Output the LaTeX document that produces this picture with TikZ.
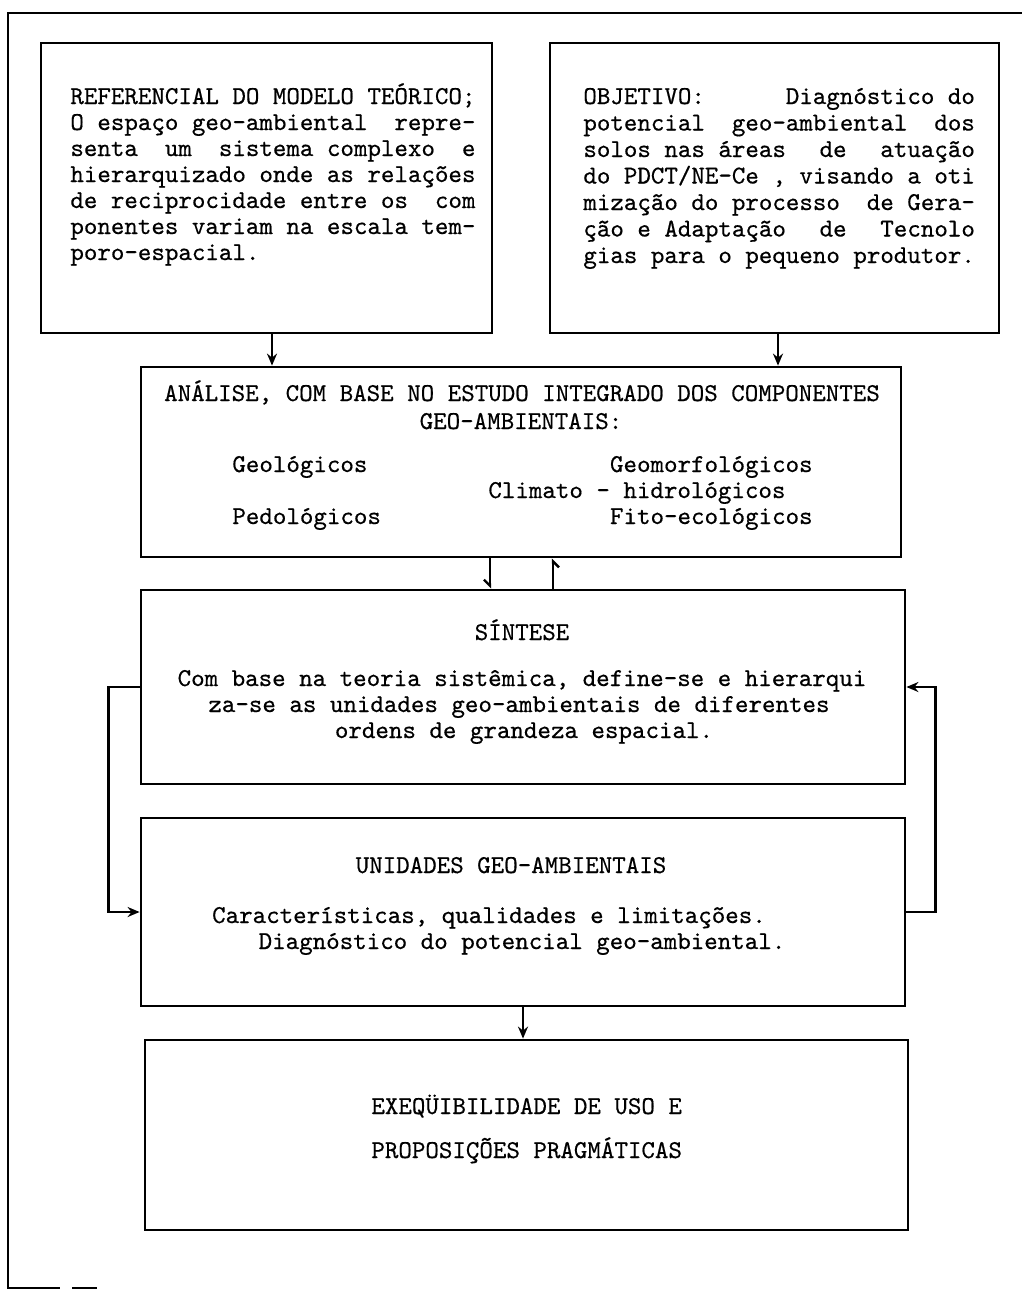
\documentclass[tikz,border=0pt]{standalone}
\usepackage{fontspec}
\newfontfamily\tw{lmmono10-regular}[Extension=.otf,FakeBold=0.5]
\usetikzlibrary{arrows.meta,fit}
\begin{document}
\begin{tikzpicture}[x=0.5pt,y=-0.5pt,
  box/.style={draw,line width=1.4pt,inner sep=0pt},
  frame/.style={line width=1pt},
  conn/.style={line width=1.2pt,-{Stealth[length=6pt,width=5pt]}},
  barb/.style={line width=1.2pt,-{Straight Barb[harpoon,swap,length=3pt,width=6pt]}},
  txt/.style={inner sep=0pt,font=\tw\fontsize{12.86}{13}\selectfont}]
\useasboundingbox (0,0) rectangle (1022,1292);
% outer frame
\draw[frame] (1022,13) -- (8,13) -- (8,1288) -- (60,1288);
\draw[frame] (72,1288) -- (97,1288);
% boxes
\node[box,fit={(41,43)(492,333)}] (b1) {};
\node[box,fit={(550,43)(999,333)}] (b2) {};
\node[box,fit={(141,367)(901,557)}] (b3) {};
\node[box,fit={(141,590)(905,784)}] (b4) {};
\node[box,fit={(141,818)(905,1006)}] (b5) {};
\node[box,fit={(145,1040)(908,1230)}] (b6) {};
% box 1 text
\node[txt,anchor=base west] (t1) at (70,104) {\parbox[t]{210pt}{\tw\fontsize{12.86}{13}\selectfont
REFERENCIAL DO MODELO TEÓRICO;\\
O espaço geo-ambiental~~repre-\\
senta~~um~~sistema complexo~~e\\
hierarquizado onde as relações\\
de reciprocidade entre os~~com\\
ponentes variam na escala tem-\\
poro-espacial.}};
% box 2 text
\node[txt,anchor=base west] (t2) at (583,104) {\parbox[t]{195.75pt}{\tw\fontsize{12.86}{13.25}\selectfont
\makebox[\linewidth][l]{OBJETIVO:\hfill Diagnóstico do}\\
potencial~~geo-ambiental~~dos\\
\makebox[\linewidth][l]{solos nas áreas\hfill de\hfill atuação}\\
do PDCT/NE-Ce , visando a oti\\
mização do processo~~de Gera-\\
\makebox[\linewidth][l]{ção e Adaptação\hfill de\hfill Tecnolo}\\
gias para o pequeno produtor.}};
% box 3 text
\node[txt,anchor=base] (t3a) at (522,401) {ANÁLISE, COM BASE NO ESTUDO INTEGRADO DOS COMPONENTES};
\node[txt,anchor=base] (t3b) at (521,429) {GEO-AMBIENTAIS:};
\node[txt,anchor=base west] (t3c) at (232,472) {Geológicos};
\node[txt,anchor=base east] (t3d) at (813,472) {Geomorfológicos};
\node[txt,anchor=base west] (t3e) at (488,498) {Climato - hidrológicos};
\node[txt,anchor=base west] (t3f) at (232,524) {Pedológicos};
\node[txt,anchor=base east] (t3g) at (813,524) {Fito-ecológicos};
% box 4 text
\node[txt,anchor=base] (t4a) at (522,640) {SÍNTESE};
\node[txt,anchor=base] (t4b) at (522,686) {Com base na teoria sistêmica, define-se e hierarqui};
\node[txt,anchor=base] (t4c) at (519,712) {za-se as unidades geo-ambientais de diferentes};
\node[txt,anchor=base] (t4d) at (524,738) {ordens de grandeza espacial.};
% box 5 text
\node[txt,anchor=base] (t5a) at (511,873) {UNIDADES GEO-AMBIENTAIS};
\node[txt,anchor=base] (t5b) at (489,923) {Características, qualidades e limitações.};
\node[txt,anchor=base] (t5c) at (522,949) {Diagnóstico do potencial geo-ambiental.};
% box 6 text
\node[txt,anchor=base west] (t6a) at (371,1114) {EXEQÜIBILIDADE DE USO E};
\node[txt,anchor=base west] (t6b) at (371,1158) {PROPOSIÇÕES PRAGMÁTICAS};
% connectors
\draw[conn] ([xshift=2.75pt]b1.south) -- ([xshift=2.75pt]b1.south |- b3.north);
\draw[conn] ([xshift=1.75pt]b2.south) -- ([xshift=1.75pt]b2.south |- b3.north);
\draw[barb] ([xshift=-15.5pt]b3.south) -- ([xshift=-15.5pt]b3.south |- b4.north);
\draw[barb] ([xshift=15pt]b4.north) -- ([xshift=15pt]b4.north |- b3.south);
\draw[conn] (b4.west) -- ++(-31,0) |- (b5.west);
\draw[conn] (b5.east) -- ++(29,0) |- (b4.east);
\draw[conn] (b5.south) -- (b5.south |- b6.north);
\end{tikzpicture}
\end{document}
